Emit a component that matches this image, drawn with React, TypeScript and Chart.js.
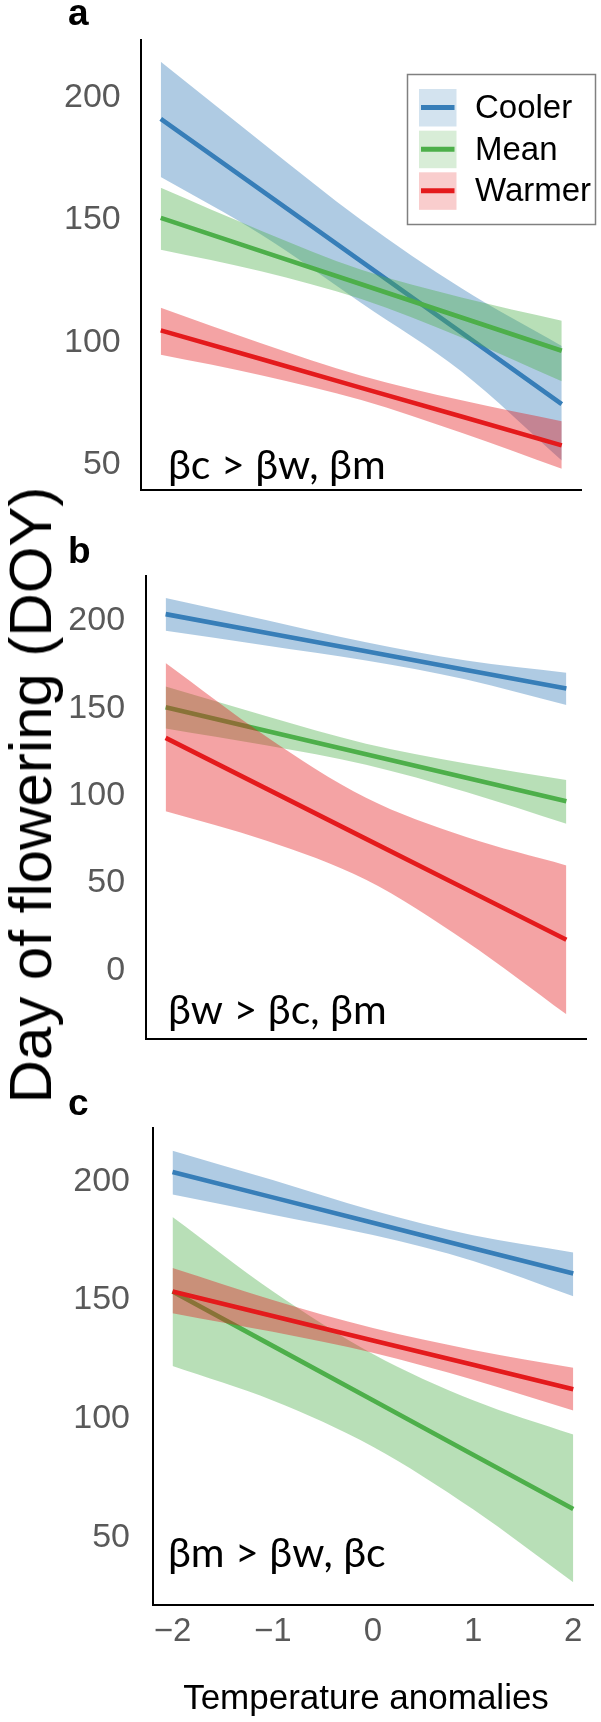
import React, { useEffect, useRef } from 'react';
import { Chart, registerables } from 'chart.js';

Chart.register(...registerables);

// Temperature anomalies at which each fitted curve and its band are evaluated
const temperature = [-2, -1, 0, 1, 2];

const seriesNames = ['Cooler', 'Mean', 'Warmer'];

// Panel a — cooler sites respond most strongly
const coolerFitA = [191.3, 162.2, 133.0, 103.9, 74.7];
const coolerHighA = [214.7, 182.0, 150.0, 122.0, 98.4];
const coolerLowA = [167.5, 144.0, 116.0, 88.0, 51.6];
const meanFitA = [150.8, 137.2, 123.7, 110.1, 96.5];
const meanHighA = [163.1, 145.6, 129.6, 118.3, 108.8];
const meanLowA = [137.8, 129.0, 117.6, 101.9, 84.0];
const warmerFitA = [104.8, 93.1, 81.3, 69.6, 57.8];
const warmerHighA = [114.1, 99.6, 86.3, 76.2, 67.7];
const warmerLowA = [94.8, 86.5, 76.3, 62.9, 48.2];

// Panel b — warmer sites respond most strongly
const coolerFitB = [203.9, 193.3, 182.6, 171.9, 161.3];
const coolerHighB = [213.1, 200.6, 187.8, 177.3, 170.4];
const coolerLowB = [194.4, 186.0, 177.4, 166.5, 151.8];
const meanFitB = [150.6, 137.1, 123.7, 110.2, 96.7];
const meanHighB = [162.4, 145.5, 129.7, 118.4, 108.9];
const meanLowB = [138.4, 128.8, 117.6, 102.0, 83.8];
const warmerFitB = [133.0, 104.1, 75.2, 46.3, 17.4];
const warmerHighB = [175.9, 134.0, 98.7, 76.2, 60.0];
const warmerLowB = [91.0, 74.2, 51.7, 16.4, -25.3];

// Panel c — mean sites respond most strongly
const coolerFitC = [204.0, 193.3, 182.6, 171.9, 161.2];
const coolerHighC = [213.0, 200.6, 187.8, 177.3, 170.1];
const coolerLowC = [194.5, 186.0, 177.4, 166.5, 151.6];
const meanFitC = [153.6, 130.7, 107.8, 84.8, 61.9];
const meanHighC = [185.0, 153.7, 127.3, 107.8, 93.3];
const meanLowC = [122.2, 107.7, 88.2, 61.8, 31.0];
const warmerFitC = [153.6, 143.3, 133.0, 122.7, 112.4];
const warmerHighC = [163.5, 150.0, 138.2, 129.0, 121.5];
const warmerLowC = [144.5, 136.6, 127.8, 116.4, 103.4];

const yTicksA = [50, 100, 150, 200];
const yTicksB = [0, 50, 100, 150, 200];
const yTicksC = [50, 100, 150, 200];
const xTickValues = [-2, -1, 0, 1, 2];
const xTickLabels = ['\u22122', '\u22121', '0', '1', '2'];

const panelLetters = ['a', 'b', 'c'];
const panelNotes = ['\u03b2c > \u03b2w, \u03b2m', '\u03b2w > \u03b2c, \u03b2m', '\u03b2m > \u03b2w, \u03b2c'];
const xTitle = 'Temperature anomalies';
const yTitle = 'Day of flowering (DOY)';

const lineColors = ['#377eb8', '#4daf4a', '#e41a1c'];
const bandFills = ['rgba(55,126,184,0.4)', 'rgba(77,175,74,0.4)', 'rgba(228,26,28,0.4)'];
const keyFills = ['rgba(55,126,184,0.22)', 'rgba(77,175,74,0.22)', 'rgba(228,26,28,0.22)'];

const SANS = '"Liberation Sans", Arial, Helvetica, sans-serif';
const NOTE_FONT = 'Lato, "Open Sans", "Noto Sans", sans-serif';
const WIDTH = 601;

type Band = { fit: number[]; high: number[]; low: number[] };

type PanelSpec = {
  top: number;
  height: number;
  areaLeft: number;
  areaTop: number;
  areaBottom: number;
  areaRight: number;
  yMin: number;
  yMax: number;
  yTicks: number[];
  tickPad: number;
  bands: Band[];
  letter: string;
  letterBaseline: number;
  note: string;
  noteBaseline: number;
  showXTicks: boolean;
  showKey: boolean;
  xTitleBaseline?: number;
};

const panels: PanelSpec[] = [
  {
    top: 0,
    height: 530,
    areaLeft: 140.7,
    areaTop: 16.8,
    areaBottom: 507.9,
    areaRight: 581.8,
    yMin: 39.7,
    yMax: 223.4,
    yTicks: yTicksA,
    tickPad: 20,
    bands: [
      { fit: coolerFitA, high: coolerHighA, low: coolerLowA },
      { fit: meanFitA, high: meanHighA, low: meanLowA },
      { fit: warmerFitA, high: warmerHighA, low: warmerLowA },
    ],
    letter: panelLetters[0],
    letterBaseline: 24.5,
    note: panelNotes[0],
    noteBaseline: 478.6,
    showXTicks: false,
    showKey: true,
  },
  {
    top: 535,
    height: 545,
    areaLeft: 145.6,
    areaTop: 31.8,
    areaBottom: 527,
    areaRight: 586.4,
    yMin: -39.5,
    yMax: 225.8,
    yTicks: yTicksB,
    tickPad: 20.5,
    bands: [
      { fit: coolerFitB, high: coolerHighB, low: coolerLowB },
      { fit: meanFitB, high: meanHighB, low: meanLowB },
      { fit: warmerFitB, high: warmerHighB, low: warmerLowB },
    ],
    letter: panelLetters[1],
    letterBaseline: 27.5,
    note: panelNotes[1],
    noteBaseline: 489,
    showXTicks: false,
    showKey: false,
  },
  {
    top: 1085,
    height: 637,
    areaLeft: 152.5,
    areaTop: 29.2,
    areaBottom: 520.1,
    areaRight: 593.3,
    yMin: 21.4,
    yMax: 222.6,
    yTicks: yTicksC,
    tickPad: 22.5,
    bands: [
      { fit: coolerFitC, high: coolerHighC, low: coolerLowC },
      { fit: meanFitC, high: meanHighC, low: meanLowC },
      { fit: warmerFitC, high: warmerHighC, low: warmerLowC },
    ],
    letter: panelLetters[2],
    letterBaseline: 30,
    note: panelNotes[2],
    noteBaseline: 481.8,
    showXTicks: true,
    showKey: false,
    xTitleBaseline: 624,
  },
];

const toPoints = (ys: number[]) => temperature.map((x, i) => ({ x, y: ys[i] }));

// Each group is drawn as band then line, so later groups lie over earlier ones
function buildDatasets(bands: Band[]) {
  const sets: any[] = [];
  bands.forEach((band, s) => {
    const base = sets.length;
    const bandOrder = 20 - s * 2;
    sets.push({
      label: seriesNames[s] + ' upper',
      data: toPoints(band.high),
      borderColor: 'rgba(0,0,0,0)',
      borderWidth: 0,
      pointRadius: 0,
      fill: false,
      cubicInterpolationMode: 'monotone',
      order: bandOrder,
    });
    sets.push({
      label: seriesNames[s] + ' lower',
      data: toPoints(band.low),
      borderColor: 'rgba(0,0,0,0)',
      borderWidth: 0,
      pointRadius: 0,
      fill: base,
      backgroundColor: bandFills[s],
      cubicInterpolationMode: 'monotone',
      order: bandOrder,
    });
    sets.push({
      label: seriesNames[s],
      data: toPoints(band.fit),
      borderColor: lineColors[s],
      borderWidth: 4.6,
      borderCapStyle: 'butt',
      pointRadius: 0,
      fill: false,
      tension: 0,
      order: bandOrder - 1,
    });
  });
  return sets;
}

function drawKey(ctx: CanvasRenderingContext2D) {
  ctx.save();
  ctx.fillStyle = '#ffffff';
  ctx.fillRect(407.5, 74.5, 188, 150);
  ctx.strokeStyle = '#808080';
  ctx.lineWidth = 1.5;
  ctx.strokeRect(407.5, 74.5, 188, 150);
  const rowTops = [89, 130.7, 172.3];
  seriesNames.forEach((name, i) => {
    const y = rowTops[i];
    ctx.fillStyle = keyFills[i];
    ctx.fillRect(419, y, 37.5, 37.5);
    ctx.strokeStyle = lineColors[i];
    ctx.lineWidth = 5;
    ctx.beginPath();
    ctx.moveTo(421, y + 18.5);
    ctx.lineTo(454.5, y + 18.5);
    ctx.stroke();
    ctx.fillStyle = '#000';
    ctx.font = `33px ${SANS}`;
    ctx.textAlign = 'left';
    ctx.textBaseline = 'alphabetic';
    ctx.fillText(name, 475, y + 29);
  });
  ctx.restore();
}

function decorations(spec: PanelSpec) {
  return {
    id: 'decorations',
    afterDraw(chart: any) {
      const ctx: CanvasRenderingContext2D = chart.ctx;
      ctx.save();
      ctx.fillStyle = '#000';
      ctx.textAlign = 'left';
      ctx.textBaseline = 'alphabetic';
      ctx.font = `bold 37px ${SANS}`;
      ctx.fillText(spec.letter, 68, spec.letterBaseline);
      ctx.font = `41px ${NOTE_FONT}`;
      ctx.fillText(spec.note, 168, spec.noteBaseline);
      if (spec.xTitleBaseline !== undefined) {
        ctx.textAlign = 'center';
        ctx.font = `35px ${SANS}`;
        ctx.fillText(xTitle, 366, spec.xTitleBaseline);
      }
      ctx.restore();
      if (spec.showKey) drawKey(ctx);
    },
  };
}

function buildConfig(spec: PanelSpec): any {
  return {
    type: 'line',
    data: { datasets: buildDatasets(spec.bands) },
    options: {
      animation: false,
      responsive: false,
      maintainAspectRatio: false,
      devicePixelRatio: 1,
      events: [],
      layout: {
        padding: { top: spec.areaTop, right: WIDTH - spec.areaRight, left: 0, bottom: 0 },
      },
      plugins: {
        legend: { display: false },
        tooltip: { enabled: false },
        title: { display: false },
      },
      scales: {
        x: {
          type: 'linear',
          min: -2.2,
          max: 2.2,
          grid: { display: false, drawTicks: false },
          border: { display: true, color: '#000', width: 2 },
          ticks: {
            display: spec.showXTicks,
            padding: 7,
            color: '#595959',
            font: { family: SANS, size: 33 },
            maxRotation: 0,
            autoSkip: false,
            callback: (_v: any, i: number) => xTickLabels[i],
          },
          afterBuildTicks: (scale: any) => {
            scale.ticks = xTickValues.map((value) => ({ value }));
          },
          afterFit: (scale: any) => {
            scale.height = spec.height - spec.areaBottom;
          },
        },
        y: {
          type: 'linear',
          min: spec.yMin,
          max: spec.yMax,
          grid: { display: false, drawTicks: false },
          border: { display: true, color: '#000', width: 2 },
          ticks: {
            padding: spec.tickPad,
            color: '#595959',
            font: { family: SANS, size: 34 },
            autoSkip: false,
            callback: (v: any) => String(v),
          },
          afterBuildTicks: (scale: any) => {
            scale.ticks = spec.yTicks.map((value) => ({ value }));
          },
          afterFit: (scale: any) => {
            scale.width = spec.areaLeft;
          },
        },
      },
    },
    plugins: [decorations(spec)],
  };
}

function Panel({ spec }: { spec: PanelSpec }) {
  const ref = useRef<HTMLCanvasElement | null>(null);
  useEffect(() => {
    if (!ref.current) return;
    const chart = new Chart(ref.current, buildConfig(spec));
    return () => chart.destroy();
  }, [spec]);
  return (
    <canvas
      ref={ref}
      width={WIDTH}
      height={spec.height}
      style={{ position: 'absolute', left: 0, top: spec.top, width: WIDTH, height: spec.height }}
    />
  );
}

export default function App() {
  return (
    <div
      style={{
        position: 'absolute',
        left: 0,
        top: 0,
        width: WIDTH,
        height: 1722,
        overflow: 'hidden',
        background: '#fff',
      }}
    >
      {panels.map((spec, i) => (
        <Panel key={i} spec={spec} />
      ))}
      <div
        style={{
          position: 'absolute',
          left: 30.7,
          top: 795,
          transform: 'translate(-50%, -50%) rotate(-90deg)',
          font: `60px ${SANS}`,
          lineHeight: '60px',
          whiteSpace: 'nowrap',
          color: '#000',
        }}
      >
        {yTitle}
      </div>
    </div>
  );
}
